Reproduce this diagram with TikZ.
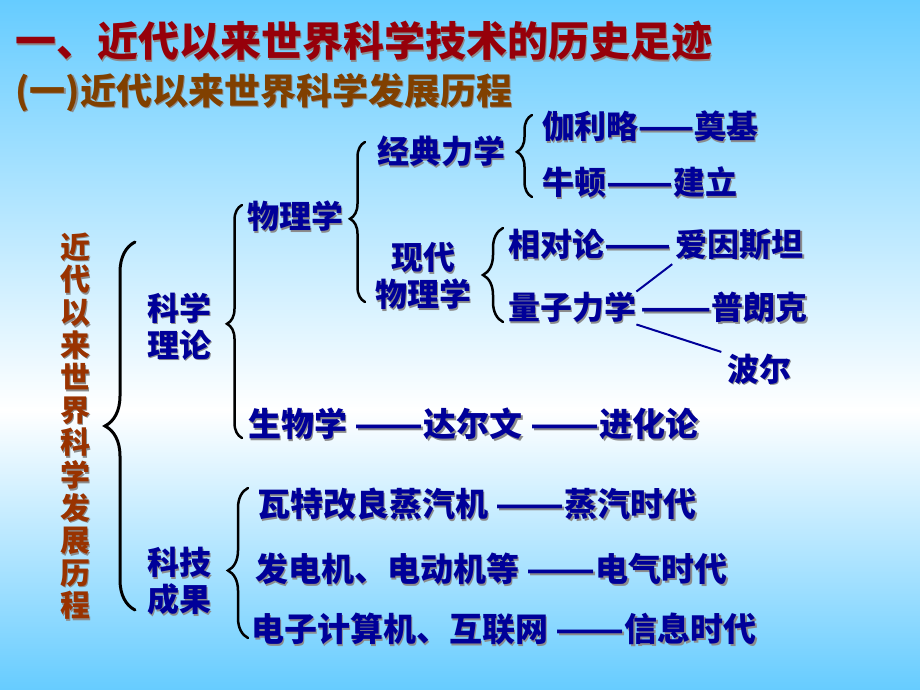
\documentclass[tikz,border=0pt]{standalone}
\usepackage{fontspec}
\usepackage{graphicx}
\setmainfont{Noto Sans CJK SC}
\usetikzlibrary{decorations.pathreplacing, positioning}

\definecolor{skyback}{RGB}{102,204,255}
\definecolor{titlered}{RGB}{150,0,10}
\definecolor{subbrown}{RGB}{128,64,0}
\definecolor{vertbrown}{RGB}{153,51,0}
\definecolor{navytext}{RGB}{0,0,153}

% text with a soft drop shadow
\newcommand{\shd}[1]{\makebox[0pt][l]{\hspace{1.6pt}\raisebox{-1.6pt}{\textcolor{black!45}{#1}}}#1}
% long dash pair
\newcommand{\dd}[1][1.22]{\scalebox{#1}[1]{——}}

\begin{document}
\begin{tikzpicture}[x=1pt, y=-1pt]
          \tikzstyle{txt}=[inner sep=0pt, anchor=west, text=navytext, font=\bfseries\fontsize{32}{36}\selectfont]
          \tikzstyle{row}=[txt, font=\bfseries\fontsize{33}{36}\selectfont]
          \tikzstyle{pair}=[inner sep=0pt, align=center, text=navytext, font=\bfseries\fontsize{32}{37}\selectfont]
          \tikzstyle{curly}=[decorate, line width=2.5pt, line cap=round]
          \tikzstyle{link}=[line width=2pt, draw=navytext]

          \useasboundingbox (0,0) rectangle (920,690);
          \shade[top color=skyback, bottom color=white] (0,0) rectangle (920,410);
          \shade[top color=white, bottom color=skyback] (0,410) rectangle (920,690);

          \node[inner sep=0pt, anchor=west, text=titlered, font=\bfseries\fontsize{41}{44}\selectfont] (title) at (15,42) {\shd{一、近代以来世界科学技术的历史足迹}};
          \node[inner sep=0pt, anchor=west, text=subbrown, font=\bfseries\fontsize{36}{38}\selectfont] (sub) at (15,93) {\shd{(一)近代以来世界科学发展历程}};

          \node[inner sep=0pt, align=center, text=vertbrown, font=\bfseries\fontsize{30}{32.6}\selectfont] (root) at (75,427)
            {\shd{近}\\\shd{代}\\\shd{以}\\\shd{来}\\\shd{世}\\\shd{界}\\\shd{科}\\\shd{学}\\\shd{发}\\\shd{展}\\\shd{历}\\\shd{程}};

          \node[pair] (theory) at (179,327) {\shd{科学}\\\shd{理论}};
          \node[pair] (achieve) at (179,582) {\shd{科技}\\\shd{成果}};

          \node[txt] (phys) at (247,217) {\shd{物理学}};
          \node[row] (bio) at (248,425) {\shd{生物学 \dd 达尔文 \dd 进化论}};

          \node[txt] (classic) at (377,152) {\shd{经典力学}};
          \node[pair] (modern) at (423,277) {\shd{现代}\\\shd{物理学}};

          \node[txt] (galileo) at (542,127) {\shd{伽利略\dd[1.02]奠基}};
          \node[txt] (newton) at (542,183) {\shd{牛顿\dd 建立}};

          \node[txt] (relat) at (508,245) {\shd{相对论\dd}};
          \node[txt, right=4pt of relat] (einstein) {\shd{爱因斯坦}};
          \node[txt] (qm) at (508,308) {\shd{量子力学}};
          \node[txt, right=4pt of qm] (planck) {\shd{\dd[1.3]普朗克}};
          \node[txt] (bohr) at (727,370) {\shd{波尔}};

          \node[row] (watt) at (257,505) {\shd{瓦特改良蒸汽机 \dd 蒸汽时代}};
          \node[row] (elec) at (255,570) {\shd{发电机、电动机等 \dd 电气时代}};
          \node[row] (info) at (251,630) {\shd{电子计算机、互联网 \dd 信息时代}};

          \draw[curly, line width=3pt, decoration={brace, amplitude=30pt, aspect=0.5}] (135,610) -- (135,242);
          \draw[curly, decoration={brace, amplitude=15pt, aspect=0.49}] (242,438) -- (242,205);
          \draw[curly, decoration={brace, amplitude=20pt, aspect=0.45}] (248,638) -- (248,488);
          \draw[curly, decoration={brace, amplitude=15pt, aspect=0.52}] (365,302) -- (365,142);
          \draw[curly, decoration={brace, amplitude=15pt, aspect=0.55}] (532,197) -- (532,115);
          \draw[curly, decoration={brace, amplitude=20pt, aspect=0.5}] (503,322) -- (503,228);

          \path (qm.north east) edge[link, shorten >=4pt] (einstein.south west);
          \path (qm.south east) edge[link, shorten >=6pt] (bohr.north west);

        \end{tikzpicture}
\end{document}
